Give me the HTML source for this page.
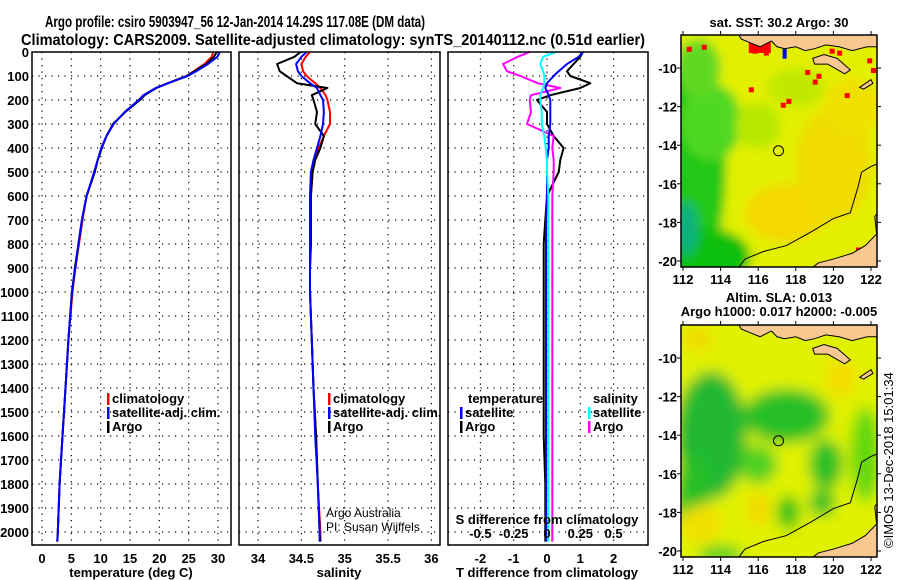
<!DOCTYPE html>
<html><head><meta charset="utf-8"><style>
html,body{margin:0;padding:0;background:#fff;}
svg{display:block;font-family:"Liberation Sans",sans-serif;}
</style></head><body>
<svg id="chart" width="900" height="580" viewBox="0 0 900 580" xmlns="http://www.w3.org/2000/svg">
<text x="45" y="27" font-size="16" font-weight="bold" textLength="380" lengthAdjust="spacingAndGlyphs">Argo profile: csiro 5903947_56 12-Jan-2014 14.29S 117.08E (DM data)</text>
<text x="21" y="45" font-size="16" font-weight="bold" textLength="624" lengthAdjust="spacingAndGlyphs">Climatology: CARS2009. Satellite-adjusted climatology: synTS_20140112.nc (0.51d earlier)</text>
<g id="g"></g>
</svg>
<script>
// ---------- data ----------
const depthTicks=[0,100,200,300,400,500,600,700,800,900,1000,1100,1200,1300,1400,1500,1600,1700,1800,1900,2000];
const tempTicks=[0,5,10,15,20,25,30];
const salTicks=[34,34.5,35,35.5,36];
const tdiffTicks=[-2,-1,0,1,2];
const sdiffTicks=[-0.5,-0.25,0,0.25,0.5];
const depths=[0,20,50,80,100,130,150,180,200,250,300,350,400,450,500,600,700,800,900,1000,1200,1400,1600,1800,2000,2040];
const tempArgo=[29.8,29.3,28.0,26.0,24.7,21.5,19.5,17.5,16.7,14.2,12.1,11.0,10.2,9.5,9.0,7.6,6.8,6.2,5.6,5.1,4.5,4.0,3.5,3.0,2.7,2.6];
const tempClim=[29.2,28.9,27.7,25.9,24.6,21.4,19.4,17.3,16.5,14.1,12.2,11.0,10.1,9.5,8.9,7.6,6.9,6.3,5.7,5.2,4.5,4.0,3.5,3.0,2.7,2.6];
const tempSat=[30.3,29.9,28.3,26.3,24.8,21.5,19.4,17.3,16.5,14.1,12.2,11.0,10.1,9.5,8.9,7.6,6.8,6.2,5.7,5.1,4.5,4.0,3.5,3.0,2.7,2.6];
const salArgo=[34.49,34.42,34.22,34.25,34.33,34.45,34.80,34.62,34.64,34.68,34.66,34.76,34.72,34.66,34.63,34.61,34.61,34.61,34.60,34.60,34.62,34.64,34.67,34.69,34.71,34.72];
const salClim=[34.60,34.55,34.50,34.52,34.56,34.66,34.72,34.78,34.80,34.83,34.83,34.76,34.70,34.66,34.63,34.61,34.61,34.61,34.60,34.60,34.62,34.64,34.67,34.69,34.72,34.72];
const salSat=[34.56,34.50,34.44,34.46,34.50,34.60,34.68,34.72,34.75,34.76,34.75,34.72,34.68,34.64,34.61,34.60,34.60,34.60,34.60,34.60,34.62,34.64,34.66,34.69,34.71,34.71];
const tdiffArgo=[1.08,1.0,0.8,0.6,0.7,1.3,1.0,0.1,-0.3,0.0,0.0,0.2,0.5,0.4,0.35,0.0,-0.05,-0.1,-0.1,-0.1,-0.1,-0.1,-0.1,-0.05,-0.05,-0.05];
const tdiffSat=[1.08,0.95,0.6,0.35,0.2,0.0,-0.05,0.05,0.1,0.1,0.1,0.05,0.05,0.0,0.0,0.0,-0.03,-0.03,-0.03,-0.03,-0.03,-0.03,-0.03,-0.03,-0.03,-0.03];
const sdiffArgo=[-0.13,-0.22,-0.33,-0.30,-0.2,-0.07,0.1,-0.12,-0.13,-0.12,-0.15,0.05,0.04,0.05,0.05,0.04,0.04,0.04,0.04,0.04,0.04,0.04,0.04,0.04,0.04,0.04];
const sdiffSat=[0.07,-0.03,-0.05,-0.03,-0.02,-0.02,-0.03,-0.05,-0.05,-0.04,-0.04,-0.02,-0.01,0,0,0.01,0.01,0.01,0.01,0.01,0.01,0.01,0.01,0.01,0.01,0.01];
const lonTicks=[112,114,116,118,120,122];
const latTicks=[-10,-12,-14,-16,-18,-20];
const floatLon=117.08, floatLat=-14.29;

// ---------- helpers ----------
const NS="http://www.w3.org/2000/svg";
const G=document.getElementById('g');
function mk(tag,attrs,parent){const e=document.createElementNS(NS,tag);for(const k in attrs)e.setAttribute(k,attrs[k]);(parent||G).appendChild(e);return e;}
const Y0=52,Y1=545;
const yD=d=>Y0+d*0.24;
const xT=t=>42+t*5.867;
const xS=s=>258+(s-34)*86.7;
const xDT=d=>547+d*33.3;
const xDS=d=>547+d*133.2;
function frame(x0,x1,name){const r=mk('rect',{x:x0,y:Y0,width:x1-x0,height:Y1-Y0,fill:'none',stroke:'#000','stroke-width':1.5});}
function grid(x0,x1,xs){
  depthTicks.forEach(d=>{if(d===0)return;const l=mk('line',{x1:x0,x2:x1,y1:yD(d),y2:yD(d),stroke:'#000','stroke-dasharray':'1.2,5.3','stroke-width':1.2});});
  xs.forEach(x=>{const l=mk('line',{x1:x,x2:x,y1:Y0,y2:Y1,stroke:'#000','stroke-dasharray':'1.2,5.3','stroke-width':1.2});});
}
function line(xs,ys,col,w,name){const d=xs.map((x,i)=>(i?'L':'M')+x.toFixed(1)+','+ys[i].toFixed(1)).join('');const p=mk('path',{d:d,fill:'none',stroke:col,'stroke-width':w,'stroke-linejoin':'round'});}
function txt(x,y,s,name,anchor,size,extra){const t=mk('text',Object.assign({x:x,y:y,'font-size':size||13,'font-weight':'bold','text-anchor':anchor||'start'},extra||{}));t.textContent=s;return t;}
function leg(x,y,col,s,name){const r=mk('rect',{x:x,y:y-10,width:2.5,height:12,fill:col});txt(x+5,y,s,name);}

depthTicks.forEach(d=>txt(29,yD(d)+5,String(d),'depth-tick-label','end'));

// panel 1
grid(32,231,tempTicks.map(xT));
line(tempClim.map(xT),depths.map(yD),'#f00',2,'temp-climatology-line');
line(tempArgo.map(xT),depths.map(yD),'#000',2,'temp-argo-line');
line(tempSat.map(xT),depths.map(yD),'#00f',2,'temp-satellite-line');
frame(32,231,'temperature-panel');
tempTicks.forEach(t=>txt(xT(t),563,String(t),'temp-tick-label','middle'));
txt(131,577,'temperature (deg C)','temperature-axis-title','middle');
leg(107,403,'#f00','climatology','legend-climatology');
leg(107,417,'#00f','satellite-adj. clim.','legend-satellite-adj');
leg(107,431,'#000','Argo','legend-argo');

// panel 2
grid(239,440,salTicks.map(xS));
line(salClim.map(xS),depths.map(yD),'#f00',2,'sal-climatology-line');
line(salArgo.map(xS),depths.map(yD),'#000',2,'sal-argo-line');
line(salSat.map(xS),depths.map(yD),'#00f',2,'sal-satellite-line');
frame(239,440,'salinity-panel');
salTicks.forEach(s=>txt(xS(s),563,String(s),'sal-tick-label','middle'));
txt(339,577,'salinity','salinity-axis-title','middle');
leg(328,403,'#f00','climatology','legend-sal-climatology');
leg(328,417,'#00f','satellite-adj. clim.','legend-sal-satellite-adj');
leg(328,431,'#000','Argo','legend-sal-argo');
txt(326,517,'Argo Australia','credit-argo-australia','start',12,{'font-weight':'normal'});
txt(326,531,'PI: Susan Wijffels','credit-pi','start',12,{'font-weight':'normal'});

// panel 3
grid(448,648,tdiffTicks.map(xDT));
line(tdiffArgo.map(xDT),depths.map(yD),'#000',2,'tdiff-argo-line');
line(sdiffArgo.map(xDS),depths.map(yD),'#f0f',2,'sdiff-argo-line');
line(tdiffSat.map(xDT),depths.map(yD),'#00f',2,'tdiff-satellite-line');
line(sdiffSat.map(xDS),depths.map(yD),'#0ff',2,'sdiff-satellite-line');
frame(448,648,'difference-panel');
tdiffTicks.forEach(t=>txt(xDT(t),563,String(t),'tdiff-tick-label','middle'));
txt(547,577,'T difference from climatology','tdiff-axis-title','middle');
txt(547,524,'S difference from climatology','sdiff-axis-title','middle');
sdiffTicks.forEach(t=>txt(xDS(t),538,String(t),'sdiff-tick-label','middle'));
txt(468,403,'temperature','legend-temperature-header');
leg(460,417,'#00f','satellite','legend-t-satellite');
leg(460,431,'#000','Argo','legend-t-argo');
txt(593,403,'salinity','legend-salinity-header');
leg(588,417,'#0ff','satellite','legend-s-satellite');
leg(588,431,'#f0f','Argo','legend-s-argo');

// ---------- maps ----------
function mapPanel(top,kind){
  const X0=681,X1=877,Yt=top,Yb=top+232;
  const lx=lon=>683+(lon-112)*18.8;
  const ly=lat=>top+33+(-lat-10)*19.3;
  const cid='clip'+kind;
  const defs=mk('defs',{});
  const cp=mk('clipPath',{id:cid},defs);mk('rect',{x:X0,y:Yt,width:X1-X0,height:Yb-Yt},cp);
  const f=mk('filter',{id:'blur'+kind,x:'-50%',y:'-50%',width:'200%',height:'200%'},defs);mk('feGaussianBlur',{stdDeviation:kind==='sst'?5:7},f);
  const g=mk('g',{'clip-path':'url(#'+cid+')'});
  
  const gb=mk('g',{filter:'url(#blur'+kind+')'},g);
  mk('rect',{x:X0-20,y:Yt-20,width:X1-X0+40,height:Yb-Yt+40,fill:kind==='sst'?'#e2f000':'#e0f200'},gb);
  let blobs;
  if(kind==='sst'){blobs=[[112.5,-15,1.8,6,'#20c818'],[113.3,-19.8,2.3,1.5,'#10c010'],[113.5,-12.8,1.6,2,'#50d820'],[112.8,-10,1.2,1.5,'#60d820'],[117.5,-17.5,2.2,1.5,'#f4d800'],[120,-15,2,3,'#f0dc00'],[121,-12,1.5,1.5,'#f0e000'],[112.2,-18.3,0.6,1.4,'#10b080'],[116,-13,1.2,1.2,'#b8e800'],[118,-11,1.5,1,'#c0e800']];}
  else{blobs=[[113.5,-14,1.9,3.3,'#20b830'],[117.5,-13,2.3,1.4,'#28c028'],[119.6,-15.5,0.9,1.3,'#28c028'],[117.6,-18,0.6,0.9,'#18c018'],[119.4,-17.5,0.7,0.7,'#28c028'],[112.5,-17,0.9,2,'#28c028'],[116,-15.5,1,1,'#50d020'],[113,-18.6,1.1,1,'#f2e000'],[116,-17.8,0.6,0.9,'#f4d800'],[120.4,-11,0.8,1,'#f4dc00'],[112.8,-9,0.8,0.7,'#f0dc00'],[121.7,-15,0.8,2.5,'#60d810'],[114,-20.2,1.2,0.5,'#50d020']];}
  blobs.forEach(b=>mk('ellipse',{cx:lx(b[0]),cy:ly(b[1]),rx:b[2]*18.8,ry:b[3]*19.3,fill:b[4]},gb));
  if(kind==='sst'){
    [[112.2,-8.9],[113,-8.8],[115.7,-9],[116,-8.8],[116.3,-9.1],[118.5,-10.1],[119.1,-10.3],[118.9,-10.6],[117.2,-11.8],[117.5,-11.6],[120.6,-11.3],[121.2,-19.3],[115.5,-11],[119.8,-9],[120.2,-9.1],[121.8,-9.5],[122,-10]].forEach(p=>mk('rect',{x:lx(p[0]),y:ly(p[1]),width:5,height:5,fill:'#f00'},g));
    mk('rect',{x:lx(115.5),y:ly(-8.6),width:22,height:12,fill:'#f00'},g);
    mk('rect',{x:lx(117.3),y:ly(-9.0),width:4,height:10,fill:'#00f'},g);
  }
  const land=[[[114.8,-8.0],[122.5,-8.0],[122.5,-8.9],[121.8,-8.9],[121,-9.1],[120.3,-8.9],[119.6,-8.8],[119.0,-9.0],[118.5,-9.1],[118,-8.9],[117.4,-9.0],[117.0,-8.9],[116.7,-8.6],[116.1,-8.9],[115.6,-8.7],[115.1,-8.5]],
    [[118.9,-9.5],[119.5,-9.3],[120.2,-9.5],[120.9,-10.1],[120.6,-10.3],[119.7,-9.8],[119,-9.8]],
    [[121.4,-11.0],[122.0,-10.6],[122.1,-10.8],[121.6,-11.1]],
    [[122.5,-17.3],[122.2,-17.7],[122.3,-18.6],[121.7,-19.2],[121,-19.6],[120,-19.9],[119.2,-20.1],[118.8,-20.4],[122.5,-20.4]]];
  land.forEach((poly,i)=>{const p=mk('polygon',{points:poly.map(q=>lx(q[0])+','+ly(q[1])).join(' '),fill:'#f8c890',stroke:'#000','stroke-width':1},g);});
  const cont=[[114.9,-20.4],[115.3,-19.9],[116.3,-19.5],[117.5,-19.2],[118.8,-18.5],[120,-17.8],[120.9,-17.5],[121.3,-16.2],[121.5,-15.4],[122,-15.1],[122.5,-14.9]];
  const c=mk('polyline',{points:cont.map(q=>lx(q[0])+','+ly(q[1])).join(' '),fill:'none',stroke:'#000','stroke-width':1},g);
  
  const m=mk('circle',{cx:lx(floatLon),cy:ly(floatLat),r:5,fill:'none',stroke:'#000','stroke-width':1});
  
  const fr=mk('rect',{x:X0,y:Yt,width:X1-X0,height:Yb-Yt,fill:'none',stroke:'#000','stroke-width':1.5});
  
  lonTicks.forEach(l=>{mk('line',{x1:lx(l),x2:lx(l),y1:Yb,y2:Yb+4,stroke:'#000'});mk('line',{x1:lx(l),x2:lx(l),y1:Yt,y2:Yt-4,stroke:'#000'});txt(lx(l),Yb+17,String(l),'lon-tick-label','middle');});
  latTicks.forEach(l=>{mk('line',{x1:X0,x2:X0-4,y1:ly(l),y2:ly(l),stroke:'#000'});mk('line',{x1:X1,x2:X1+4,y1:ly(l),y2:ly(l),stroke:'#000'});txt(677,ly(l)+5,String(l),'lat-tick-label','end');});
}
mapPanel(35,'sst');
mapPanel(325,'sla');
txt(779,27,'sat. SST: 30.2 Argo: 30','sst-map-title','middle');
txt(779,302,'Altim. SLA: 0.013','sla-map-title','middle');
txt(779,316,'Argo h1000: 0.017 h2000: -0.005','sla-map-subtitle','middle');
txt(893,548,'©IMOS 13-Dec-2018 15:01:34','imos-timestamp','start',13,{'font-weight':'normal',transform:'rotate(-90 893 548)'});
</script>
</body></html>
